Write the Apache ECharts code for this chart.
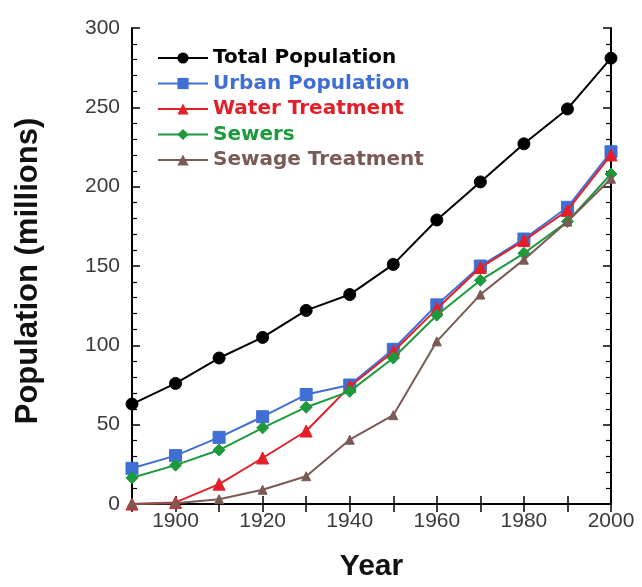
<!DOCTYPE html>
<html>
<head>
<meta charset="utf-8">
<script src="https://cdn.jsdelivr.net/npm/echarts@6/dist/echarts.min.js"></script>
<style>
html,body{margin:0;padding:0;background:#fff;}
#chart{width:642px;height:587px;}
</style>
</head>
<body>
<div id="chart"></div>
<script>
var years = [1890, 1900, 1910, 1920, 1930, 1940, 1950, 1960, 1970, 1980, 1990, 2000];
var totalPopulation = [63, 76, 92, 105, 122, 132, 151, 179, 203, 227, 249, 281];
var urbanPopulation = [22.5, 30.5, 42, 55, 69, 75, 97.5, 125.5, 150, 167, 187, 222];
var waterTreatment = [0, 1, 12.5, 29, 46, 74, 96, 123, 149, 166, 185, 220];
var sewers = [16.5, 24.5, 34, 48, 61, 71, 92, 119, 141, 158, 178, 208];
var sewageTreatment = [0, 0.5, 3, 9, 17.5, 40.5, 56, 102.5, 132, 154, 178, 205];
var xTickLabels = ['1900', '1920', '1940', '1960', '1980', '2000'];

var seriesDefs = [
  {name: 'Total Population', data: totalPopulation, color: '#000000', symbol: 'circle', size: 12},
  {name: 'Urban Population', data: urbanPopulation, color: '#3f6fd4', symbol: 'rect', size: 12},
  {name: 'Water Treatment', data: waterTreatment, color: '#e3202a', symbol: 'triangle', size: 12},
  {name: 'Sewers', data: sewers, color: '#1c9a3c', symbol: 'diamond', size: 12},
  {name: 'Sewage Treatment', data: sewageTreatment, color: '#7a5a55', symbol: 'triangle', size: 9}
];

function pairs(vals) {
  return years.map(function (y, i) { return [y, vals[i]]; });
}

var chart = echarts.init(document.getElementById('chart'));
var tickLabelStyle = {color: '#3a3a3a', fontFamily: 'Liberation Sans', fontSize: 21};
var option = {
  backgroundColor: '#ffffff',
  animation: false,
  grid: {left: 132, right: 31, top: 28, bottom: 76, containLabel: false},
  legend: {
    orient: 'vertical',
    left: 157,
    top: 48,
    padding: 0,
    itemWidth: 50,
    itemHeight: 14,
    itemGap: 5.5,
    textStyle: {fontFamily: 'DejaVu Sans', fontSize: 20, fontWeight: 'bold'},
    data: seriesDefs.map(function (s) {
      return {name: s.name, textStyle: {color: s.color}};
    })
  },
  xAxis: [{
    type: 'value', min: 1890, max: 2000, interval: 10,
    name: 'Year', nameLocation: 'middle', nameGap: 48,
    nameTextStyle: {fontFamily: 'Liberation Sans', fontSize: 30, fontWeight: 'bold', color: '#111'},
    axisLine: {lineStyle: {color: '#000', width: 2}},
    axisTick: {inside: true, length: 8, lineStyle: {color: '#000', width: 1.5}},
    axisLabel: Object.assign({margin: 7, formatter: function (v) {
      return xTickLabels.indexOf(String(v)) >= 0 ? String(v) : '';
    }}, tickLabelStyle),
    splitLine: {show: false}
  }, {
    type: 'value', position: 'top', min: 1890, max: 2000, interval: 10,
    axisLine: {lineStyle: {color: '#000', width: 2}},
    axisTick: {inside: true, length: 8, lineStyle: {color: '#000', width: 1.5}},
    axisLabel: {show: false},
    splitLine: {show: false}
  }],
  yAxis: [{
    type: 'value', min: 0, max: 300, interval: 50,
    name: 'Population (millions)', nameLocation: 'middle', nameGap: 88,
    nameTextStyle: {fontFamily: 'Liberation Sans', fontSize: 31, fontWeight: 'bold', color: '#111', padding: [0, 10, 0, 0]},
    axisLine: {show: true, lineStyle: {color: '#000', width: 2}},
    axisTick: {inside: true, length: 8, lineStyle: {color: '#000', width: 1.5}},
    minorTick: {show: true, splitNumber: 5, length: 5, lineStyle: {color: '#000', width: 1.2}},
    axisLabel: Object.assign({margin: 12, padding: [0, 0, 10, 0]}, tickLabelStyle),
    splitLine: {show: false}
  }, {
    type: 'value', position: 'right', min: 0, max: 300, interval: 50,
    axisLine: {show: true, lineStyle: {color: '#000', width: 2}},
    axisTick: {inside: true, length: 8, lineStyle: {color: '#000', width: 1.5}},
    minorTick: {show: true, splitNumber: 5, length: 5, lineStyle: {color: '#000', width: 1.2}},
    axisLabel: {show: false},
    splitLine: {show: false}
  }],
  series: seriesDefs.map(function (s, i) {
    return {
      name: s.name,
      type: 'line',
      data: pairs(s.data),
      symbol: s.symbol,
      symbolSize: s.size,
      showAllSymbol: true,
      clip: false,
      z: 2 + i,
      lineStyle: {color: s.color, width: 2},
      itemStyle: {color: s.color, borderColor: s.color},
      emphasis: {disabled: true}
    };
  })
};
chart.setOption(option);
</script>
</body>
</html>
